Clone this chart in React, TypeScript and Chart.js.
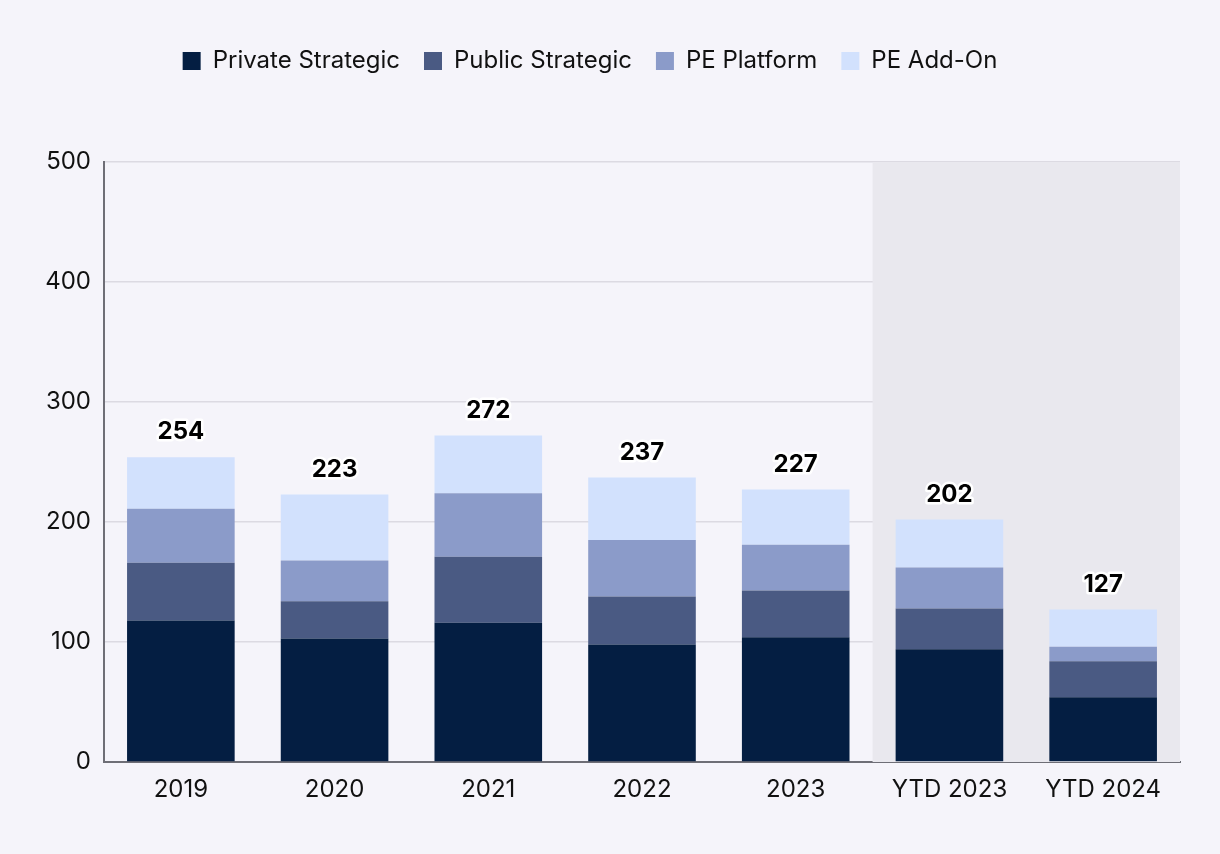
import React, { useEffect, useRef } from "react";
import { Chart, registerables } from "chart.js";

Chart.register(...registerables);

const categories = ["2019", "2020", "2021", "2022", "2023", "YTD 2023", "YTD 2024"];
const privateStrategic = [118, 103, 116, 98, 104, 94, 54];
const publicStrategic = [48, 31, 55, 40, 39, 34, 30];
const pePlatform = [45, 34, 53, 47, 38, 34, 12];
const peAddOn = [43, 55, 48, 52, 46, 40, 31];
const totals = [254, 223, 272, 237, 227, 202, 127];
const yTicks = [0, 100, 200, 300, 400, 500];

const FONT = "Inter, 'Noto Sans', sans-serif";

const shadePlugin = {
  id: "shade",
  beforeDatasetsDraw(chart: any) {
    const { ctx, chartArea, scales } = chart;
    const x = scales.x;
    const start = (x.getPixelForValue(4) + x.getPixelForValue(5)) / 2;
    ctx.save();
    ctx.fillStyle = "#e9e8ee";
    ctx.fillRect(start, chartArea.top, chartArea.right - start, chartArea.bottom - chartArea.top);
    ctx.restore();
  },
};

const legendSpacing = {
  id: "legendSpacing",
  beforeInit(chart: any) {
    const orig = chart.legend.fit;
    chart.legend.fit = function () {
      orig.bind(chart.legend)();
      this.height = 137;
    };
  },
};

const totalsPlugin = {
  id: "totals",
  afterDatasetsDraw(chart: any) {
    const { ctx, scales } = chart;
    ctx.save();
    ctx.font = `bold 24px ${FONT}`;
    ctx.textAlign = "center";
    ctx.textBaseline = "middle";
    ctx.lineJoin = "round";
    totals.forEach((t, i) => {
      const x = scales.x.getPixelForValue(i);
      const y = scales.y.getPixelForValue(t) - 25;
      ctx.strokeStyle = "#ffffff";
      ctx.lineWidth = 5;
      ctx.strokeText(String(t), x, y);
      ctx.fillStyle = "#000000";
      ctx.fillText(String(t), x, y);
    });
    ctx.restore();
  },
};

export default function App() {
  const ref = useRef<HTMLCanvasElement>(null);
  useEffect(() => {
    const chart = new Chart(ref.current!, {
      type: "bar",
      data: {
        labels: categories,
        datasets: [
          { label: "Private Strategic", data: privateStrategic, backgroundColor: "#041e42" },
          { label: "Public Strategic", data: publicStrategic, backgroundColor: "#4a5a83" },
          { label: "PE Platform", data: pePlatform, backgroundColor: "#8b9bc9" },
          { label: "PE Add-On", data: peAddOn, backgroundColor: "#d2e1fd" },
        ],
      },
      options: {
        animation: false,
        responsive: false,
        maintainAspectRatio: false,
        layout: { padding: { top: 25, right: 40, left: 0, bottom: 0 } },
        datasets: { bar: { barPercentage: 0.7, categoryPercentage: 1 } },
        plugins: {
          legend: {
            position: "top",
            labels: {
              boxWidth: 18,
              boxHeight: 18,
              padding: 24,
              color: "#111111",
              font: { family: FONT, size: 24 },
            },
          },
          tooltip: { enabled: false },
        },
        scales: {
          x: {
            stacked: true,
            grid: { display: false },
            border: { color: "#6e6e76", width: 2 },
            ticks: { color: "#111111", font: { family: FONT, size: 24 }, padding: 5 },
            afterFit(axis: any) {
              axis.height = 92;
            },
          },
          y: {
            stacked: true,
            min: 0,
            max: 500,
            afterBuildTicks(axis: any) {
              axis.ticks = yTicks.map((v) => ({ value: v }));
            },
            afterFit(axis: any) {
              axis.width = 104;
            },
            grid: { color: "#dcdae2", lineWidth: 1.5, drawTicks: false },
            border: { color: "#6e6e76", width: 2 },
            ticks: { color: "#111111", font: { family: FONT, size: 24 }, padding: 13 },
          },
        },
      },
      plugins: [shadePlugin, legendSpacing, totalsPlugin],
    } as any);
    return () => chart.destroy();
  }, []);
  return (
    <div style={{ position: "fixed", left: 0, top: 0, width: 1220, height: 854, background: "#f5f4fa" }}>
      <canvas ref={ref} width={1220} height={854} style={{ width: 1220, height: 854 }} />
    </div>
  );
}
